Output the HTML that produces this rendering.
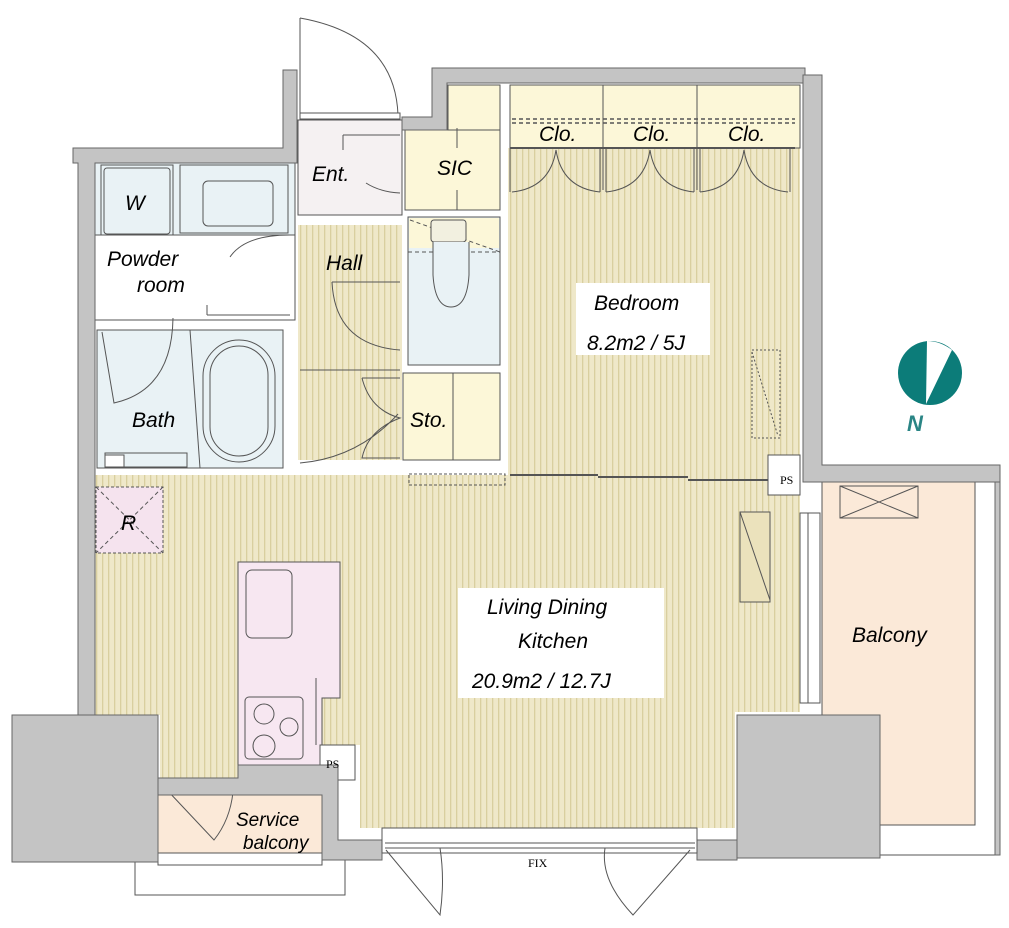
<!DOCTYPE html>
<html><head><meta charset="utf-8"><style>
html,body{margin:0;padding:0;background:#fff;}
svg{display:block;}
text{font-family:"Liberation Sans",sans-serif;font-style:italic;fill:#000;}
</style></head><body>
<svg width="1009" height="928" viewBox="0 0 1009 928" xmlns="http://www.w3.org/2000/svg">
<defs>
<pattern id="st" width="6" height="10" patternUnits="userSpaceOnUse">
<rect width="6" height="10" fill="#efe8c9"/>
<rect x="0" width="1.3" height="10" fill="#d9cf9f"/>
</pattern>
</defs>
<g stroke="#555" stroke-width="1">
<!-- LDK + bedroom floor -->
<path d="M95 475 L95 715 L160 715 L160 778 L238 778 L238 765 L322 765 L322 745 L360 745 L360 828 L735 828 L735 712 L800 712 L800 475 Z" fill="url(#st)" stroke="none"/>
<rect x="508" y="148" width="292" height="330" fill="url(#st)" stroke="none"/>
<rect x="298" y="225" width="104" height="235" fill="url(#st)" stroke="none"/>
<!-- closets -->
<rect x="510" y="85" width="290" height="63" fill="#fcf7d8"/>
<line x1="603" y1="85" x2="603" y2="190"/><line x1="697" y1="85" x2="697" y2="190"/>
<line x1="510" y1="148" x2="795" y2="148" stroke-width="2"/>
<line x1="512" y1="119" x2="795" y2="119" stroke-dasharray="4 3" stroke-width="1.5"/>
<line x1="512" y1="123" x2="795" y2="123" stroke-dasharray="4 3" stroke-width="1.5"/>
<g fill="none">
<path d="M512 192 Q550 188 556 150 Q562 188 600 192"/>
<path d="M606 192 Q644 188 650 150 Q656 188 694 192"/>
<path d="M700 192 Q738 188 744 150 Q750 188 788 192"/>
</g>
<line x1="510" y1="148" x2="510" y2="192"/><line x1="600" y1="148" x2="600" y2="192"/><line x1="606" y1="148" x2="606" y2="192"/><line x1="694" y1="148" x2="694" y2="192"/><line x1="700" y1="148" x2="700" y2="192"/><line x1="790" y1="148" x2="790" y2="192"/>
<!-- SIC / toilet / sto -->
<rect x="405" y="128" width="95" height="82" fill="#fcf7d8"/>
<rect x="448" y="85" width="52" height="45" fill="#fcf7d8"/>
<line x1="457" y1="190" x2="457" y2="210"/><line x1="457" y1="128" x2="457" y2="148"/>
<rect x="408" y="217" width="92" height="148" fill="#e9f2f5"/>
<rect x="409" y="218" width="90" height="30" fill="#fcf7d8" stroke="none"/>
<line x1="408" y1="252" x2="500" y2="252" stroke-dasharray="4 3"/>
<line x1="410" y1="220" x2="500" y2="252" stroke-dasharray="4 3"/>
<rect x="431" y="220" width="35" height="22" rx="3" fill="#f2f0e0"/>
<path d="M433 242 L433 275 Q435 307 451 307 Q467 307 469 275 L469 242" fill="#e9f2f5"/>
<rect x="403" y="373" width="97" height="87" fill="#fcf7d8"/>
<line x1="453" y1="373" x2="453" y2="460"/>
<rect x="409" y="474" width="96" height="11" fill="none" stroke-dasharray="3 2"/>
<!-- entrance -->
<rect x="298" y="120" width="104" height="95" fill="#f5f1f2"/>
<path d="M343 135 L400 135 M343 135 L343 150" fill="none"/>
<path d="M366 183 Q380 192 400 193" fill="none"/>
<!-- wash / powder / bath -->
<rect x="95" y="163" width="200" height="72" fill="#e9f2f5"/>
<rect x="101" y="165" width="72" height="72" fill="#e9f2f5"/>
<rect x="104" y="168" width="66" height="66" rx="3" fill="#e9f2f5"/>
<rect x="180" y="165" width="108" height="68" fill="#e9f2f5"/>
<rect x="203" y="181" width="70" height="45" rx="5" fill="#e9f2f5"/>
<rect x="95" y="235" width="200" height="85" fill="#fff"/>
<path d="M230 257 Q245 235 290 235" fill="none"/>
<path d="M207 315 L290 315 M207 305 L207 315" fill="none"/>
<rect x="97" y="330" width="186" height="138" fill="#e9f2f5"/>
<path d="M102 332 L114 403 Q172 390 173 318" fill="none"/>
<path d="M190 330 L200 468" fill="none"/>
<rect x="203" y="340" width="72" height="122" rx="36" fill="#e9f2f5"/>
<rect x="210" y="346" width="58" height="110" rx="29" fill="none"/>
<rect x="105" y="453" width="82" height="14" fill="#e9f2f5"/><rect x="105" y="455" width="19" height="12" fill="#fff"/>
<!-- hall doors -->
<path d="M332 282 L400 282 M332 282 Q335 345 400 350" fill="none"/>
<path d="M300 463 Q358 458 398 414 M362 378 L400 378 M362 378 Q370 410 400 418 Q368 430 362 458 L400 458" fill="none"/>
<line x1="300" y1="370" x2="400" y2="370"/>
<!-- R -->
<rect x="96" y="487" width="67" height="66" fill="#f5e3ee" stroke-dasharray="3 2"/>
<line x1="96" y1="487" x2="163" y2="553" stroke-dasharray="4 3"/><line x1="163" y1="487" x2="96" y2="553" stroke-dasharray="4 3"/>
<!-- kitchen -->
<path d="M238 562 L340 562 L340 698 L322 698 L322 765 L238 765 Z" fill="#f7e7f1"/>
<rect x="246" y="570" width="46" height="68" rx="6" fill="#f7e7f1"/>
<rect x="245" y="697" width="58" height="62" rx="4" fill="#f7e7f1"/>
<circle cx="264" cy="714" r="10" fill="none"/><circle cx="289" cy="727" r="9" fill="none"/><circle cx="264" cy="746" r="11" fill="none"/>
<line x1="316" y1="678" x2="316" y2="745"/>
<rect x="320" y="745" width="35" height="35" fill="#fff"/>
<!-- bedroom partition -->
<line x1="510" y1="475" x2="598" y2="475" stroke-width="2"/><line x1="598" y1="477" x2="688" y2="477" stroke-width="2"/><line x1="688" y1="480" x2="775" y2="480" stroke-width="2"/>
<rect x="752" y="350" width="28" height="88" fill="none" stroke-dasharray="2 2"/>
<line x1="752" y1="352" x2="778" y2="436" stroke-dasharray="2 2"/>
<rect x="768" y="455" width="32" height="40" fill="#fff"/>
<!-- LDK window furniture -->
<rect x="740" y="512" width="30" height="90" fill="#ebe2bc"/>
<line x1="740" y1="512" x2="770" y2="600"/>
<rect x="800" y="513" width="20" height="190" fill="#fff"/><line x1="808" y1="513" x2="808" y2="703"/>
<!-- balcony -->
<rect x="822" y="470" width="178" height="385" fill="#fff"/>
<rect x="822" y="482" width="153" height="343" fill="#fbe9d8"/>
<rect x="840" y="486" width="78" height="32" fill="none"/><line x1="840" y1="486" x2="918" y2="518"/><line x1="918" y1="486" x2="840" y2="518"/>
<!-- service balcony -->
<rect x="135" y="850" width="210" height="45" fill="#fff"/>
<rect x="158" y="795" width="164" height="58" fill="#fbe9d8"/>
<rect x="158" y="853" width="164" height="12" fill="#fff"/>
<path d="M167 790 L214 840 Q230 820 233 792" fill="none"/>
<!-- walls -->
<g fill="#c4c4c4" stroke="#666">
<path d="M73 148 L283 148 L283 70 L297 70 L297 163 L95 163 L95 715 L78 715 L78 163 L73 163 Z"/>
<path d="M432 68 L805 68 L805 83 L447 83 L447 130 L402 130 L402 117 L432 117 Z"/>
<path d="M803 75 L822 75 L822 465 L1000 465 L1000 482 L803 482 Z"/>
<rect x="12" y="715" width="146" height="147"/>
<rect x="737" y="715" width="143" height="143"/>
<path d="M158 778 L238 778 L238 765 L338 765 L338 840 L382 840 L382 860 L322 860 L322 795 L158 795 Z"/>
<rect x="697" y="840" width="40" height="20"/>
<rect x="995" y="482" width="5" height="373"/>
</g>
<!-- bottom window -->
<rect x="382" y="828" width="315" height="25" fill="#fff"/>
<line x1="385" y1="843" x2="695" y2="843"/><line x1="385" y1="848" x2="695" y2="848"/>
<path d="M386 850 L440 915 Q445 880 440 848" fill="none"/>
<path d="M690 850 L633 915 Q600 880 605 848" fill="none"/>
<!-- entry door -->
<path d="M300 18 L300 115 L398 115 Q395 35 300 18" fill="none"/>
<rect x="300" y="113" width="100" height="6" fill="#fff"/>
</g>
<!-- labels -->
<rect x="576" y="283" width="134" height="72" fill="#fff"/>
<rect x="458" y="588" width="206" height="110" fill="#fff"/>
<g font-size="21">
<text x="125" y="210">W</text>
<text x="107" y="266">Powder</text>
<text x="137" y="292">room</text>
<text x="132" y="427">Bath</text>
<text x="312" y="181">Ent.</text>
<text x="326" y="270">Hall</text>
<text x="437" y="175">SIC</text>
<text x="410" y="427">Sto.</text>
<text x="539" y="141">Clo.</text>
<text x="633" y="141">Clo.</text>
<text x="728" y="141">Clo.</text>
<text x="594" y="310">Bedroom</text>
<text x="587" y="350">8.2m2 / 5J</text>
<text x="121" y="530">R</text>
<text x="487" y="614">Living Dining</text>
<text x="518" y="648">Kitchen</text>
<text x="472" y="688">20.9m2 / 12.7J</text>
<text x="852" y="642">Balcony</text>
<text x="236" y="826" font-size="19">Service</text>
<text x="243" y="849" font-size="19">balcony</text>
</g>
<g font-family="Liberation Serif" font-size="12" fill="#333" style="font-style:normal">
<text x="780" y="484" style="font-style:normal;font-family:'Liberation Serif'">PS</text>
<text x="326" y="768" style="font-style:normal;font-family:'Liberation Serif'">PS</text>
<text x="528" y="867" style="font-style:normal;font-family:'Liberation Serif'">FIX</text>
</g>
<!-- compass -->
<circle cx="930" cy="373" r="32" fill="#0c7c79"/>
<path d="M927 341 Q940 341 952 350 L926 404 Z" fill="#fff"/>
<text x="907" y="431" font-size="22" font-weight="bold" fill="#0c7c79" style="fill:#2a8585">N</text>
</svg>
</body></html>
